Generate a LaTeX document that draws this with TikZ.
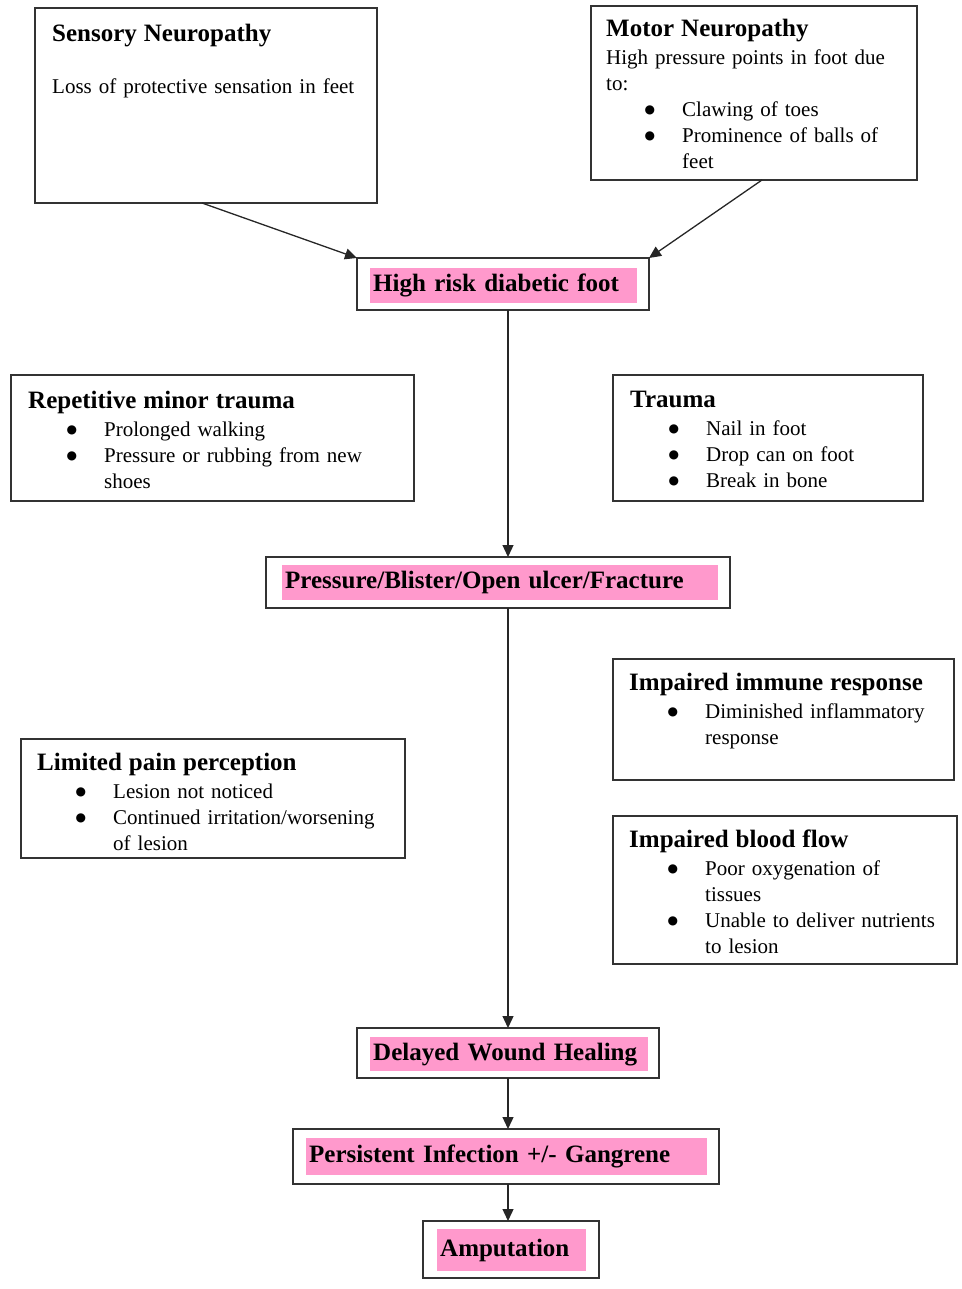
\documentclass[tikz,border=0pt]{standalone}
\usepackage{fontspec}
\setmainfont{Liberation Serif}
\newfontfamily\dotfont{DejaVu Sans}
\usetikzlibrary{arrows.meta,positioning}
\setlength{\parindent}{0pt}
\definecolor{hlpink}{RGB}{255,153,204}
\newcommand{\boxhead}[1]{{\fontsize{25}{28}\selectfont\bfseries #1}\par\vspace{2pt}}
\newcommand{\itm}[1]{\par{\leftskip=76pt\relax\noindent
  \llap{\raisebox{3pt}{\dotfont\fontsize{12}{12}\selectfont ●}\hspace{27pt}}#1\par}}

\begin{document}
\begin{tikzpicture}[
 x=1pt, y=-1pt, >=Latex,
 box/.style={draw=black!80, line width=1.5pt, anchor=north west, inner sep=0pt, outer sep=0pt},
 txt/.style={anchor=north west, inner sep=0pt, align=left, font=\fontsize{21}{26}\selectfont},
 hl/.style={fill=hlpink, anchor=north west, inner xsep=3pt, inner ysep=0pt, align=left,
   font=\fontsize{25}{28}\selectfont\bfseries},
 arr/.style={draw=black!85, line width=1.3pt, -{Triangle[length=12pt,width=11pt]}}]
\useasboundingbox (0,0) rectangle (961,1289);
% causes at the top
\node[box, minimum width=342, minimum height=195] (sens) at (35,8) {};
\node[txt, text width=310] (senst) at ([shift={(17,16)}]sens.north west)
 {\boxhead{Sensory Neuropathy}\vspace{24pt}
  Loss of protective sensation in feet};
\node[box, minimum width=326, minimum height=174] (mot) at (591,6) {};
\node[txt, text width=298] (mott) at ([shift={(15,13)}]mot.north west)
 {\boxhead{Motor Neuropathy}
  High pressure points in foot due\newline to:
  \itm{Clawing of toes}
  \itm{Prominence of balls of\newline feet}};
% main chain
\node[box, minimum width=292, minimum height=52] (hrf) at (357,258) {};
\node[hl, text width=261, minimum height=35] (hrft) at (370,268) {High risk diabetic foot};
\node[box, minimum width=464, minimum height=51] (pbo) at (266,557) {};
\node[hl, text width=430, minimum height=35] (pbot) at (282,565) {Pressure/Blister/Open ulcer/Fracture};
\node[box, minimum width=302, minimum height=50] (dwh) at (357,1028) {};
\node[hl, text width=272, minimum height=34] (dwht) at (370,1037) {Delayed Wound Healing};
\node[box, minimum width=426, minimum height=55] (pig) at (293,1129) {};
\node[hl, text width=395, minimum height=37] (pigt) at (306,1138) {Persistent Infection +/- Gangrene};
\node[box, minimum width=176, minimum height=57] (amp) at (423,1221) {};
\node[hl, text width=143, minimum height=42] (ampt) at (437,1229) {Amputation};
% side factors
\node[box, minimum width=403, minimum height=126] (rmt) at (11,375) {};
\node[txt, text width=370] (rmtt) at ([shift={(17,16)}]rmt.north west)
 {\boxhead{Repetitive minor trauma}
  \itm{Prolonged walking}
  \itm{Pressure or rubbing from new\newline shoes}};
\node[box, minimum width=310, minimum height=126] (trm) at (613,375) {};
\node[txt, text width=280] (trmt) at ([shift={(17,16)}]trm.north west)
 {\boxhead{Trauma}
  \itm{Nail in foot}
  \itm{Drop can on foot}
  \itm{Break in bone}};
\node[box, minimum width=341, minimum height=121] (imm) at (613,659) {};
\node[txt, text width=315] (immt) at ([shift={(16,14)}]imm.north west)
 {\boxhead{Impaired immune response}
  \itm{Diminished inflammatory\newline response}};
\node[box, minimum width=384, minimum height=119] (lpp) at (21,739) {};
\node[txt, text width=360] (lppt) at ([shift={(16,14)}]lpp.north west)
 {\boxhead{Limited pain perception}
  \itm{Lesion not noticed}
  \itm{Continued irritation/worsening\newline of lesion}};
\node[box, minimum width=344, minimum height=148] (ibf) at (613,816) {};
\node[txt, text width=318] (ibft) at ([shift={(16,14)}]ibf.north west)
 {\boxhead{Impaired blood flow}
  \itm{Poor oxygenation of\newline tissues}
  \itm{Unable to deliver nutrients\newline to lesion}};
% connectors
\coordinate (spine) at (508,0);
\draw[arr] ([xshift=167]sens.south west) -- (hrf.north west);
\draw[arr] ([xshift=171]mot.south west) -- (hrf.north east);
\draw[arr] (hrf.south -| spine) -- (pbo.north -| spine);
\draw[arr] (pbo.south -| spine) -- (dwh.north -| spine);
\draw[arr] (dwh.south -| spine) -- (pig.north -| spine);
\draw[arr] (pig.south -| spine) -- (amp.north -| spine);
\end{tikzpicture}
\end{document}
